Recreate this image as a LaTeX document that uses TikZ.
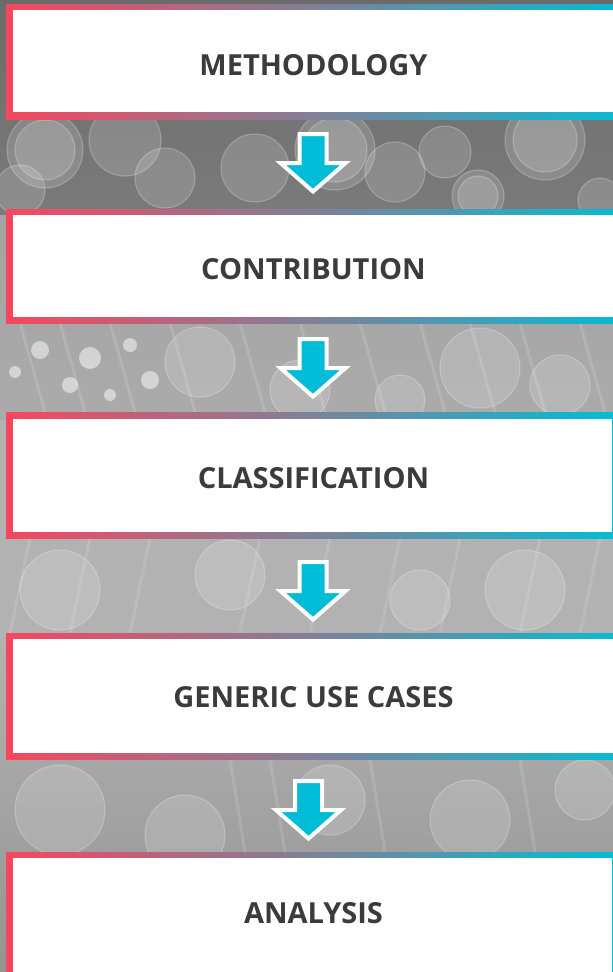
\documentclass[tikz,border=0pt]{standalone}
\usepackage{fontspec}
\setmainfont{Open Sans}
\definecolor{bred}{HTML}{F8465E}
\definecolor{bcyan}{HTML}{00BED6}
\definecolor{acyan}{HTML}{00BCD6}
\definecolor{txt}{HTML}{3B3B3B}
\begin{document}
\begin{tikzpicture}[x=1pt,y=-1pt,
  frame/.style={left color=bred,right color=bcyan},
  innerbox/.style={fill=white},
  steplabel/.style={font=\bfseries\fontsize{29}{31}\selectfont, text=txt, inner sep=0pt, anchor=base},
  flowarrow/.style={fill=acyan, draw=white, line width=4pt, line join=miter},
  bokeh/.style={fill=white, fill opacity=0.15, draw=white, draw opacity=0.22, line width=1.2pt},
  spot/.style={fill=white, fill opacity=0.5},
  streak/.style={draw=white, draw opacity=0.13, line width=3pt}]
\useasboundingbox (0,0) rectangle (613,972);
\clip (0,0) rectangle (613,972);
% background photo impression
\shade[top color=black!58, bottom color=black!52] (0,0) rectangle (613,215);
\shade[top color=black!36, bottom color=black!33] (0,215) rectangle (613,420);
\shade[top color=black!30, bottom color=black!30] (0,420) rectangle (613,640);
\shade[top color=black!30, bottom color=black!42] (0,640) rectangle (613,972);
% band 1 bokeh
\foreach \x/\y/\r in {45/150/38,125/140/36,165/178/30,255/168/34,335/150/40,395/172/30,445/152/26,478/196/26,545/140/40,600/200/22,20/190/25}
  {\path[bokeh] (\x,\y) circle (\r);}
\foreach \x/\y/\r in {335/150/32,545/140/32,478/196/20,45/150/30}
  {\path[bokeh] (\x,\y) circle (\r);}
% band 2 streaks and spots
\foreach \x in {20,60,110,170,240,300,360,420,470,520,580}
  {\draw[streak] (\x,323) -- (\x+25,412);}
\foreach \x/\y/\r in {40/350/9,90/358/11,130/345/7,70/385/8,15/372/6,150/380/9,110/395/6}
  {\path[spot] (\x,\y) circle (\r);}
\foreach \x/\y/\r in {200/362/35,300/390/30,480/368/40,560/385/30,400/400/25}
  {\path[bokeh] (\x,\y) circle (\r);}
% band 3
\foreach \x in {30,90,150,260,330,400,460,540,600}
  {\draw[streak] (\x,538) -- (\x-20,633);}
\foreach \x/\y/\r in {60/590/40,230/575/35,420/600/30,525/590/40}
  {\path[bokeh] (\x,\y) circle (\r);}
% band 4
\foreach \x/\y/\r in {60/810/45,185/835/40,330/800/35,470/820/40,585/790/30}
  {\path[bokeh] (\x,\y) circle (\r);}
\foreach \x in {230,270,370,520}
  {\draw[streak] (\x,759) -- (\x+15,852);}
% boxes
\fill[frame] (6,4) rectangle (636,119);
\fill[innerbox] (13,10) rectangle (630,112);
\node[steplabel] (t1) at (313.5,75) {METHODOLOGY};
\fill[frame] (6,209) rectangle (636,323);
\fill[innerbox] (13,215) rectangle (630,317);
\node[steplabel] (t2) at (313.5,279) {CONTRIBUTION};
\fill[frame] (6,412) rectangle (618,538);
\fill[innerbox] (13,419) rectangle (611.5,532);
\node[steplabel] (t3) at (313.5,488) {CLASSIFICATION};
\fill[frame] (6,633) rectangle (636,759);
\fill[innerbox] (13,639) rectangle (630,753);
\node[steplabel] (t4) at (313.5,707) {GENERIC USE CASES};
\fill[frame] (6,852) rectangle (618,978);
\fill[innerbox] (13,858) rectangle (611.5,971.5);
\node[steplabel] (t5) at (313.5,923) {ANALYSIS};
% arrows
\coordinate (a1) at (313,132);
\coordinate (a2) at (313,337);
\coordinate (a3) at (313,560);
\coordinate (a4) at (308.5,779);
\foreach \a in {a1,a2,a3,a4}
  {\path[flowarrow] (\a) ++(-13.5,2) -- ++(27,0) -- ++(0,29) -- ++(19,0) -- ++(-32.5,28.5) -- ++(-32.5,-28.5) -- ++(19,0) -- cycle;}
\end{tikzpicture}
\end{document}
